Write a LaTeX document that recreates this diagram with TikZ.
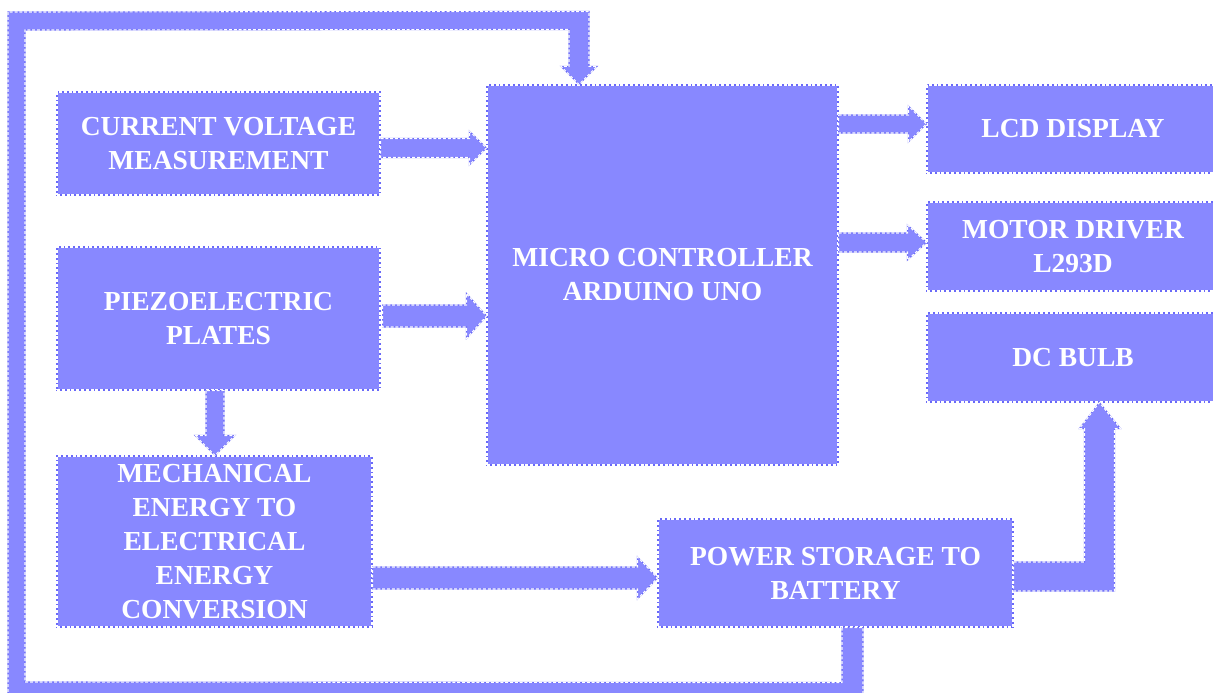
\documentclass[tikz,border=0pt]{standalone}
\usepackage{fontspec}
\setmainfont{Liberation Serif}
\usetikzlibrary{calc}
\definecolor{boxfill}{RGB}{136,136,255}
\definecolor{boxedge}{RGB}{105,105,248}
\tikzset{
  dashedge/.style={draw=boxedge, line width=1.1pt,
    postaction={draw=white, line width=1.1pt, dash pattern=on 3pt off 1.8pt}},
  blk/.style={rectangle, fill=boxfill, dashedge, text=white, align=center,
    inner sep=0pt, font=\fontsize{27.5}{34}\selectfont\bfseries},
  arr/.style={fill=boxfill, dashedge},
}
\newcommand\rarrow[5]{%
  \path[arr] ($(#1)+(0,-#3)$) -- ($(#2)+(-#5,-#3)$) -- ($(#2)+(-#5,-#4)$) -- (#2)
    -- ($(#2)+(-#5,#4)$) -- ($(#2)+(-#5,#3)$) -- ($(#1)+(0,#3)$) -- cycle;}
\newcommand\darrow[5]{%
  \path[arr] ($(#1)+(-#3,0)$) -- ($(#2)+(-#3,-#5)$) -- ($(#2)+(-#4,-#5)$) -- (#2)
    -- ($(#2)+(#4,-#5)$) -- ($(#2)+(#3,-#5)$) -- ($(#1)+(#3,0)$) -- cycle;}
\begin{document}
\begin{tikzpicture}[x=1pt,y=-1pt]
\useasboundingbox[fill=white] (0,0) rectangle (1213,693);

\node[blk, minimum width=323, minimum height=103] (cvm) at (218.5,143.5) {CURRENT VOLTAGE\\MEASUREMENT};
\node[blk, minimum width=323, minimum height=143] (piezo) at (218.5,318.5) {PIEZOELECTRIC\\PLATES};
\node[blk, minimum width=315, minimum height=171] (mech) at (214.5,541.5) {MECHANICAL\\ENERGY TO\\ELECTRICAL\\ENERGY\\CONVERSION};
\node[blk, minimum width=351, minimum height=380] (mc) at (662.5,275) {MICRO CONTROLLER\\ARDUINO UNO};
\node[blk, minimum width=292, minimum height=88] (lcd) at (1073,129) {LCD DISPLAY};
\node[blk, minimum width=292, minimum height=89] (motor) at (1073,246.5) {MOTOR DRIVER\\L293D};
\node[blk, minimum width=292, minimum height=89] (dc) at (1073,357.5) {DC BULB};
\node[blk, minimum width=355, minimum height=108] (power) at (835.5,573) {POWER STORAGE TO\\BATTERY};

% CVM -> MC
\coordinate (a1s) at ($(cvm.east)+(0,4.5)$);
\coordinate (a1t) at (mc.west |- a1s);
\rarrow{a1s}{a1t}{9.5}{17}{17}
% Piezo -> MC
\coordinate (a2s) at ($(piezo.east)+(2,-2.5)$);
\coordinate (a2t) at (mc.west |- a2s);
\rarrow{a2s}{a2t}{11}{22.5}{20}
% MC -> LCD
\coordinate (a3t) at ($(lcd.west)+(0,-5)$);
\coordinate (a3s) at (mc.east |- a3t);
\rarrow{a3s}{a3t}{9}{18}{18}
% MC -> Motor
\coordinate (a4t) at ($(motor.west)+(0,-4)$);
\coordinate (a4s) at (mc.east |- a4t);
\rarrow{a4s}{a4t}{9.5}{17.5}{19}
% Piezo -> Mech
\coordinate (a5t) at ($(mech.north)+(0.5,0)$);
\coordinate (a5s) at (a5t |- piezo.south);
\darrow{a5s}{a5t}{9}{20}{20}
% Mech -> Power
\coordinate (a6t) at ($(power.west)+(0,5)$);
\coordinate (a6s) at (mech.east |- a6t);
\rarrow{a6s}{a6t}{11}{21}{20}
% Power -> DC bulb
\coordinate (p7s) at ($(power.east)+(0,3.5)$);
\coordinate (p7t) at ($(dc.south west)+(173,0)$);
\path[arr] ($(p7s)+(0,-14.5)$) -- ($(p7t |- p7s)+(-15,-14.5)$) -- ($(p7t)+(-15,26)$)
  -- ($(p7t)+(-20,26)$) -- (p7t) -- ($(p7t)+(21,26)$) -- ($(p7t)+(15,26)$)
  -- ($(p7t |- p7s)+(15,14.5)$) -- ($(p7s)+(0,14.5)$) -- cycle;
% Feedback loop: Power -> MC
\coordinate (fbS) at ($(power.south)+(17,0)$);
\coordinate (fbT) at ($(mc.north)+(-83.5,0)$);
\path[arr] ($(fbS)+(-10.5,0)$) -- ($(fbS)+(-10.5,55)$) -- (25,682) -- (25,30)
  -- ($(fbT)+(-10,-55)$) -- ($(fbT)+(-10,-18)$) -- ($(fbT)+(-18,-18)$) -- (fbT)
  -- ($(fbT)+(18,-18)$) -- ($(fbT)+(10,-18)$) -- ($(fbT)+(10,-73)$) -- (8,12)
  -- (8,710) -- ($(fbS)+(10.5,83)$) -- ($(fbS)+(10.5,0)$) -- cycle;
\end{tikzpicture}
\end{document}
